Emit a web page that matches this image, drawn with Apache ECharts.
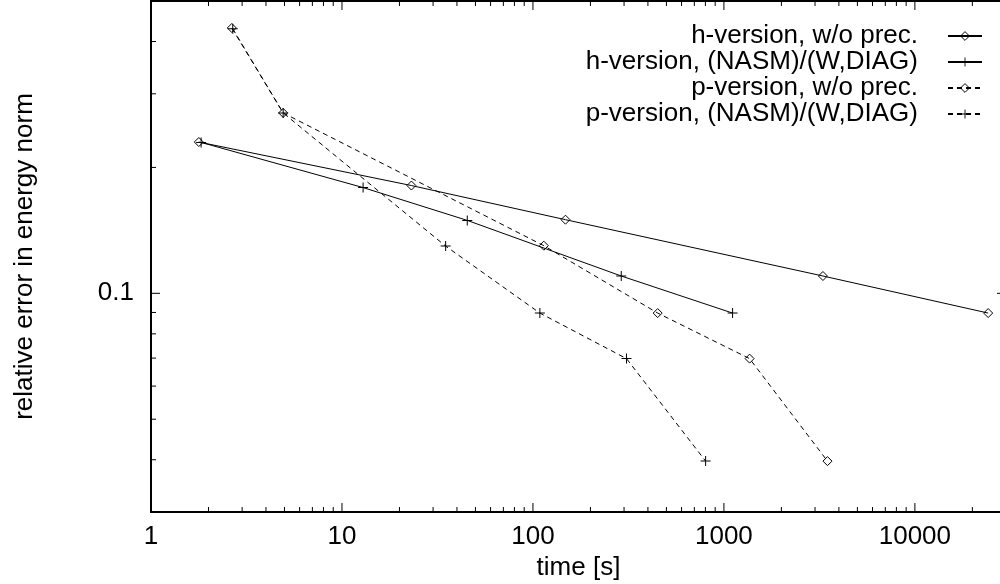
<!DOCTYPE html>
<html>
<head>
<meta charset="utf-8">
<script src="https://cdn.jsdelivr.net/npm/echarts@6/dist/echarts.min.js"></script>
<style>
  html, body { margin: 0; padding: 0; background: #fff; }
  #chart { width: 1000px; height: 584px; }
</style>
</head>
<body>
<div id="chart"></div>
<script>
// series values (time in s, relative error)
const hPlainTime = [1.78, 23.1, 148, 3300, 24200];
const hPlainErr  = [0.230, 0.181, 0.150, 0.110, 0.0897];
const hPrecTime  = [1.83, 12.9, 45.3, 290, 1110];
const hPrecErr   = [0.2295, 0.179, 0.1494, 0.110, 0.0897];
const pPlainTime = [2.65, 4.92, 114, 450, 1363, 3486];
const pPlainErr  = [0.431, 0.270, 0.130, 0.0897, 0.0698, 0.0397];
const pPrecTime  = [2.68, 4.92, 34.9, 108.7, 309, 802];
const pPrecErr   = [0.429, 0.270, 0.1297, 0.0897, 0.0698, 0.0397];

const seriesNames = [
  'h-version, w/o prec.',
  'h-version, (NASM)/(W,DIAG)',
  'p-version, w/o prec.',
  'p-version, (NASM)/(W,DIAG)'
];

// axis ranges and tick positions
const X_MIN = 1, X_MAX = 30000;
const Y_MIN = 0.03, Y_MAX = 0.5;
const xMajorTicks = [1, 10, 100, 1000, 10000];
const xMinorTicks = [2, 3, 4, 5, 6, 7, 8, 9,
  20, 30, 40, 50, 60, 70, 80, 90,
  200, 300, 400, 500, 600, 700, 800, 900,
  2000, 3000, 4000, 5000, 6000, 7000, 8000, 9000,
  20000];
const yMajorTicks = [0.1];
const yMinorTicks = [0.04, 0.05, 0.06, 0.07, 0.08, 0.09, 0.2, 0.3, 0.4];

const FONT = '"Liberation Sans", Arial, Helvetica, sans-serif';
const PLUS = 'path://M4.5,0H5.5V10H4.5ZM0,4.5H10V5.5H0Z';
const HOLLOW = { color: 'transparent', borderColor: '#000', borderWidth: 1 };

const zip = (xs, ys) => xs.map((x, i) => [x, ys[i]]);

// only label the decades
function decadeLabel(v) {
  const p = Math.log10(v);
  if (Math.abs(p - Math.round(p)) > 1e-6) return '';
  const k = Math.round(p);
  return k >= 0 ? String(Math.pow(10, k)) : Math.pow(10, k).toFixed(-k);
}

function lineSeries(name, data, dashed, diamond) {
  return {
    name: name,
    type: 'line',
    data: data,
    symbol: diamond ? 'diamond' : PLUS,
    symbolSize: diamond ? 9 : 10,
    lineStyle: { color: '#000', width: 1, type: dashed ? [5, 4] : 'solid' },
    itemStyle: diamond ? HOLLOW : { color: '#000', borderWidth: 0 },
    emphasis: { disabled: true },
    z: 3
  };
}

// gnuplot style ticks on all four sides
function tickSeries(table, vertical) {
  return {
    type: 'custom',
    silent: true,
    clip: false,
    data: table,
    encode: { x: 0, y: 1 },
    z: 4,
    renderItem: function (params, api) {
      const len = api.value(2) ? 9 : 5;
      const st = { stroke: '#000', lineWidth: 1 };
      if (vertical) {
        const b = api.coord([api.value(0), Y_MIN]);
        const t = api.coord([api.value(0), Y_MAX]);
        return { type: 'group', children: [
          { type: 'line', shape: { x1: b[0], y1: b[1], x2: b[0], y2: b[1] - len }, style: st },
          { type: 'line', shape: { x1: t[0], y1: t[1], x2: t[0], y2: t[1] + len }, style: st }
        ] };
      }
      const l = api.coord([X_MIN, api.value(1)]);
      const r = api.coord([X_MAX, api.value(1)]);
      return { type: 'group', children: [
        { type: 'line', shape: { x1: l[0], y1: l[1], x2: l[0] + len, y2: l[1] }, style: st },
        { type: 'line', shape: { x1: r[0], y1: r[1], x2: r[0] - len, y2: r[1] }, style: st }
      ] };
    }
  };
}

const xTickTable = xMajorTicks.map(v => [v, Y_MIN, 1]).concat(xMinorTicks.map(v => [v, Y_MIN, 0]));
const yTickTable = yMajorTicks.map(v => [X_MIN, v, 1]).concat(yMinorTicks.map(v => [X_MIN, v, 0]));

// legend entries: thin hollow diamonds for the "w/o prec." runs
const legendData = seriesNames.map((n, i) =>
  i % 2 === 0 ? { name: n, itemStyle: HOLLOW } : { name: n });

const myChart = echarts.init(document.getElementById('chart'));

const option = {
  animation: false,
  backgroundColor: '#fff',
  grid: {
    // the right border sits just outside the picture
    left: 151, top: 1, width: 855, height: 511,
    outerBoundsMode: 'none',
    containLabel: false,
    show: true, borderColor: '#000', borderWidth: 2, backgroundColor: 'transparent'
  },
  legend: {
    data: legendData,
    orient: 'vertical',
    align: 'right',
    right: 17,
    top: 23,
    padding: 0,
    itemGap: 0,
    itemWidth: 34,
    itemHeight: 11,
    selectedMode: false,
    textStyle: { fontSize: 26, lineHeight: 25, color: '#000', fontFamily: FONT, padding: [0, 25, 0, 0] }
  },
  xAxis: {
    type: 'log',
    logBase: 10,
    min: X_MIN,
    max: X_MAX,
    axisLine: { show: false },
    axisTick: { show: false },
    splitLine: { show: false },
    axisLabel: { formatter: decadeLabel, fontSize: 26, color: '#000', margin: 12, fontFamily: FONT },
    name: 'time [s]',
    nameLocation: 'middle',
    nameGap: 42,
    nameTextStyle: { fontSize: 26, color: '#000', fontFamily: FONT }
  },
  yAxis: {
    type: 'log',
    logBase: 10,
    min: Y_MIN,
    max: Y_MAX,
    axisLine: { show: false },
    axisTick: { show: false },
    splitLine: { show: false },
    axisLabel: { formatter: decadeLabel, fontSize: 26, color: '#000', margin: 17, fontFamily: FONT },
    name: 'relative error in energy norm',
    nameLocation: 'middle',
    nameGap: 113,
    nameTextStyle: { fontSize: 26, color: '#000', fontFamily: FONT }
  },
  series: [
    lineSeries(seriesNames[0], zip(hPlainTime, hPlainErr), false, true),
    lineSeries(seriesNames[1], zip(hPrecTime, hPrecErr), false, false),
    lineSeries(seriesNames[2], zip(pPlainTime, pPlainErr), true, true),
    lineSeries(seriesNames[3], zip(pPrecTime, pPrecErr), true, false),
    tickSeries(xTickTable, true),
    tickSeries(yTickTable, false)
  ]
};

myChart.setOption(option);
</script>
</body>
</html>
